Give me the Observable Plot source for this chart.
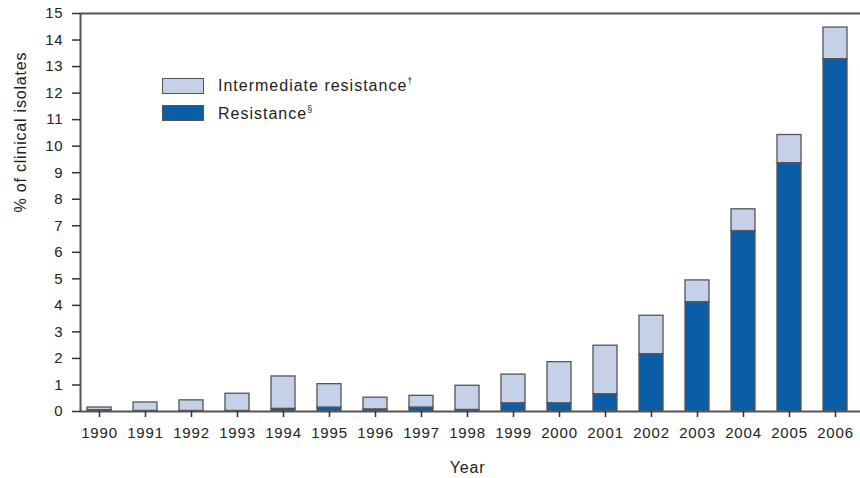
<!DOCTYPE html>
<html>
<head>
<meta charset="utf-8">
<script src="https://cdn.jsdelivr.net/npm/d3@7"></script>
<script src="https://cdn.jsdelivr.net/npm/@observablehq/plot@0.6"></script>
<style>
  html, body { margin: 0; padding: 0; background: #fff; }
  #wrap { position: relative; width: 860px; height: 478px; font-family: "Liberation Sans", Arial, sans-serif; }
  #legend { position: absolute; left: 162px; top: 77px; font-size: 16px; letter-spacing: 1px; color: #222; }
  .row { display: flex; align-items: center; height: 17px; margin-bottom: 10.5px; }
  .sw { width: 40px; height: 14px; border: 1.5px solid #555; margin-right: 14px; flex: none; }
  sup { font-size: 9px; vertical-align: 7px; }
</style>
</head>
<body>
<div id="wrap"></div>
<script>
const years = ["1990","1991","1992","1993","1994","1995","1996","1997","1998","1999","2000","2001","2002","2003","2004","2005","2006"];
const resistance   = [0.05, 0.02, 0.02, 0.02, 0.10, 0.15, 0.08, 0.15, 0.06, 0.31, 0.31, 0.65, 2.16, 4.12, 6.80, 9.36, 13.28];
const intermediate = [0.10, 0.32, 0.40, 0.65, 1.22, 0.88, 0.44, 0.44, 0.91, 1.08, 1.55, 1.83, 1.45, 0.82, 0.82, 1.06, 1.19];
const yTicks = d3.range(0, 16);
const seriesNames = ["Resistance", "Intermediate resistance"];
const seriesColors = ["#0a5ea8", "#c5d1e8"];

const data = years.flatMap((y, i) => [
  {year: y, type: seriesNames[0], value: resistance[i]},
  {year: y, type: seriesNames[1], value: intermediate[i]}
]);

const chart = Plot.plot({
  width: 860,
  height: 478,
  marginLeft: 80,
  marginTop: 13,
  marginBottom: 67,
  marginRight: 6,
  style: {fontFamily: "Liberation Sans, Arial, sans-serif", fontSize: "15px", letterSpacing: "0.8px", color: "#222", background: "#fff"},
  x: {type: "band", domain: years, paddingInner: 0.48, paddingOuter: 0.13, label: null},
  y: {domain: [0, 15], label: null},
  color: {domain: seriesNames, range: seriesColors},
  marks: [
    Plot.barY(data, {x: "year", y: "value", fill: "type", stroke: "#555", strokeWidth: 1.3}),
    Plot.frame({stroke: "#555", strokeWidth: 2, insetRight: -12}),
    Plot.axisY({ticks: yTicks, tickSize: 8, tickPadding: 9, strokeWidth: 1.5, stroke: "#333", label: null, fontSize: 15}),
    Plot.axisX({tickSize: 6, tickPadding: 10, strokeWidth: 1.5, stroke: "#333", label: null, fontSize: 15}),
    Plot.text(["% of clinical isolates"], {frameAnchor: "left", rotate: -90, dx: -60, fontSize: 16, fill: "#222"}),
    Plot.text(["Year"], {frameAnchor: "bottom", dy: 61, fontSize: 16, fill: "#222"})
  ]
});

const wrap = document.getElementById("wrap");
wrap.appendChild(chart);
const legend = document.createElement("div");
legend.id = "legend";
legend.innerHTML =
  `<div class="row"><div class="sw" style="background:${seriesColors[1]}"></div><span>Intermediate resistance<sup>†</sup></span></div>` +
  `<div class="row"><div class="sw" style="background:${seriesColors[0]}"></div><span>Resistance<sup>§</sup></span></div>`;
wrap.appendChild(legend);
</script>
</body>
</html>
